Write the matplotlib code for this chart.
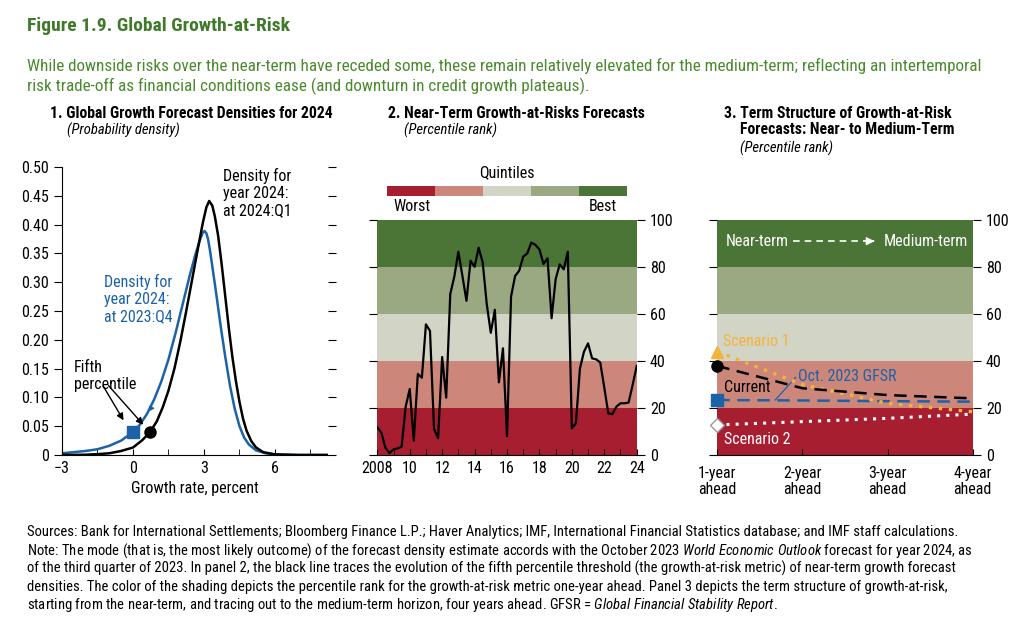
import matplotlib
matplotlib.use('Agg')
import matplotlib.pyplot as plt
from matplotlib import font_manager
import numpy as np


def pick_font():
    for f in ['Liberation Sans Narrow', 'Roboto Condensed', 'Liberation Sans']:
        try:
            font_manager.findfont(f, fallback_to_default=False)
            return f
        except Exception:
            pass
    return 'DejaVu Sans'


FONT = pick_font()
plt.rcParams['font.family'] = [FONT, 'DejaVu Sans']
plt.rcParams['mathtext.fontset'] = 'custom'
plt.rcParams['mathtext.rm'] = FONT
plt.rcParams['mathtext.it'] = FONT + ':italic'

# ---- data ----
# panel 1: forecast densities for 2024 (growth rate, density)
dens_q1_x = [-3.0, -2.0, -1.5, -1.0, -0.5, 0.0, 0.4, 0.72, 1.0, 1.25, 1.5, 1.75, 2.0,
             2.25, 2.5, 2.75, 2.95, 3.1, 3.22, 3.35, 3.46, 3.6, 3.75, 3.9, 4.05, 4.2,
             4.35, 4.5, 4.65, 4.8, 5.0, 5.2, 5.5, 6.0, 7.0, 8.24]
dens_q1_y = [0.0, 0.0005, 0.0015, 0.003, 0.007, 0.013, 0.026, 0.040, 0.058, 0.082, 0.112,
             0.150, 0.197, 0.250, 0.305, 0.360, 0.403, 0.430, 0.441, 0.433, 0.414, 0.380,
             0.330, 0.275, 0.220, 0.170, 0.128, 0.092, 0.063, 0.042, 0.024, 0.013, 0.005,
             0.001, 0.0, 0.0]
dens_q4_x = [-3.0, -2.5, -2.0, -1.5, -1.0, -0.5, 0.0, 0.3, 0.6, 0.9, 1.2, 1.5, 1.8, 2.1,
             2.4, 2.65, 2.85, 2.95, 3.02, 3.1, 3.17, 3.25, 3.35, 3.5, 3.7, 3.9, 4.1, 4.3,
             4.5, 4.7, 4.9, 5.2, 5.6, 6.0, 7.0, 8.24]
dens_q4_y = [0.003, 0.005, 0.007, 0.010, 0.016, 0.025, 0.040, 0.053, 0.072, 0.097, 0.128,
             0.166, 0.212, 0.262, 0.312, 0.350, 0.376, 0.386, 0.389, 0.385, 0.375, 0.356,
             0.328, 0.285, 0.225, 0.170, 0.120, 0.080, 0.050, 0.030, 0.018, 0.008, 0.003,
             0.001, 0.0, 0.0]
fifth_q1 = (0.72, 0.040)
fifth_q4 = (-0.02, 0.040)

# panel 2: near-term growth-at-risk percentile rank, quarterly 2008:Q1-2024:Q1
gar_start = 2008
gar_rank = [11.8, 9.5, 3.1, 0.8, 2.4, 2.8, 3.5, 20.6, 28.1, 6.1, 34.5, 32.9, 55.6, 52.8,
            11.1, 7.1, 41.7, 24.4, 68.5, 75.9, 86.5, 76.2, 65.6, 82.7, 80.1, 88.2, 82.0,
            64.3, 52.0, 61.8, 30.9, 45.4, 8.0, 67.4, 76.2, 78.4, 84.4, 85.8, 90.4, 89.4,
            87.5, 81.3, 83.7, 58.2, 74.8, 81.1, 79.0, 86.5, 11.3, 13.5, 36.9, 44.0, 47.5,
            41.1, 40.7, 39.4, 28.7, 17.7, 17.4, 20.6, 22.0, 22.0, 22.3, 29.8, 37.9]

# panel 3: term structure of growth-at-risk
horizons = ['1-year\nahead', '2-year\nahead', '3-year\nahead', '4-year\nahead']
current = [37.9, 28.4, 25.5, 24.1]
scenario1 = [44.0, 30.0, 22.0, 18.4]
gfsr_oct23 = [23.4, 23.2, 22.9, 22.7]
scenario2 = [12.8, 14.2, 15.6, 17.4]

quintile_edges = [0, 20, 40, 60, 80, 100]
quintile_colors = ['#A71E30', '#CC877A', '#D2D5C5', '#9BA983', '#4A7536']

BLUE = '#1B62A8'
ORANGE = '#F4B43A'
GREEN_T = '#3F7A2A'
W, H = 1020, 629


def fx(px):
    return px / W


def fy(py):
    return 1 - py / H


fig = plt.figure(figsize=(W / 100, H / 100), dpi=100)

# ---- titles ----
fig.text(fx(27), fy(31), 'Figure 1.9. Global Growth-at-Risk', fontsize=14, fontweight='bold',
         color=GREEN_T, va='baseline')
fig.text(fx(27), fy(66), 'While downside risks over the near-term have receded some, these remain '
         'relatively elevated for the medium-term; reflecting an intertemporal',
         fontsize=12.3, color='#4A8A2E', va='center')
fig.text(fx(27), fy(86), 'risk trade-off as financial conditions ease (and downturn in credit growth plateaus).',
         fontsize=12.3, color='#4A8A2E', va='center')

PT = 11.3
fig.text(fx(50), fy(113), '1. Global Growth Forecast Densities for 2024', fontsize=PT,
         fontweight='bold', va='center')
fig.text(fx(67), fy(130), '(Probability density)', fontsize=10.5, style='italic', va='center')
fig.text(fx(388), fy(113), '2. Near-Term Growth-at-Risks Forecasts', fontsize=PT,
         fontweight='bold', va='center')
fig.text(fx(404), fy(130), '(Percentile rank)', fontsize=10.5, style='italic', va='center')
fig.text(fx(724), fy(113), '3. Term Structure of Growth-at-Risk', fontsize=PT,
         fontweight='bold', va='center')
fig.text(fx(740), fy(130), 'Forecasts: Near- to Medium-Term', fontsize=PT,
         fontweight='bold', va='center')
fig.text(fx(740), fy(148), '(Percentile rank)', fontsize=10.5, style='italic', va='center')

TICK_FS = 11.5

# ---- panel 1 ----
ax1 = fig.add_axes([fx(62), fy(455), fx(328 - 62), (455 - 167) / H])
ax1.plot(dens_q4_x, dens_q4_y, color=BLUE, lw=1.8)
ax1.plot(dens_q1_x, dens_q1_y, color='black', lw=1.8)
ax1.plot(*fifth_q4, marker='s', ms=8, color=BLUE, zorder=5)
ax1.plot(*fifth_q1, marker='o', ms=8, color='black', zorder=5)
ax1.set_xlim(-3, 8.24)
ax1.set_ylim(0, 0.5)
ax1.set_xticks([-3, 0, 3, 6])
ax1.set_xticklabels(['\u22123', '0', '3', '6'])
ax1.set_xticks([-1.5, 1.5, 4.5, 7.5], minor=True)
ax1.tick_params(axis='x', which='both', direction='in', length=4, labelsize=TICK_FS, pad=4)
yt = np.arange(0, 0.51, 0.05)
ax1.set_yticks(yt)
ax1.set_yticklabels(['0'] + ['%.2f' % v for v in yt[1:]])
ax1.tick_params(axis='y', which='both', direction='out', length=6, left=True, right=True,
                labelsize=TICK_FS)
for s in ['top', 'right']:
    ax1.spines[s].set_visible(False)
fig.text(fx(195), fy(489), 'Growth rate, percent', fontsize=11.5, ha='center', va='center')

ax1.text(3.8, 0.455, 'Density for\nyear 2024:\nat 2024:Q1', fontsize=11.5, va='center',
         linespacing=1.15)
ax1.text(-1.22, 0.271, 'Density for\nyear 2024:\nat 2023:Q4', fontsize=11.5, va='center',
         color=BLUE, linespacing=1.15)
ax1.text(-2.5, 0.137, 'Fifth\npercentile', fontsize=11.5, va='center', linespacing=1.15)
arr = dict(arrowstyle='-|>', color='black', lw=1.0, mutation_scale=10)
ax1.annotate('', xy=(-0.34, 0.056), xytext=(-1.32, 0.124), arrowprops=arr)
ax1.annotate('', xy=(0.51, 0.049), xytext=(-1.11, 0.124), arrowprops=arr)
ax1.annotate('', xy=(1.05, 0.081), xytext=(0.68, 0.081),
             arrowprops=dict(arrowstyle='-|>', color=BLUE, lw=1.0, mutation_scale=7))


def bands(ax):
    for i, c in enumerate(quintile_colors):
        ax.axhspan(quintile_edges[i], quintile_edges[i + 1], color=c, lw=0, zorder=0)


def quintile_key(x0, x1, worst_x, best_x):
    kax = fig.add_axes([fx(x0), fy(196), fx(x1 - x0), 10 / H])
    for i, c in enumerate(quintile_colors):
        kax.axvspan(i, i + 1, color=c, lw=0)
    kax.set_xlim(0, 5)
    kax.axis('off')
    fig.text(fx((x0 + x1) / 2), fy(173), 'Quintiles', fontsize=11.5, ha='center', va='center')
    fig.text(fx(worst_x), fy(207), 'Worst', fontsize=11.5, ha='center', va='center')
    fig.text(fx(best_x), fy(207), 'Best', fontsize=11.5, ha='center', va='center')


def band_axes(ax):
    ax.set_ylim(0, 100)
    ax.set_yticks(range(0, 101, 20))
    ax.yaxis.tick_right()
    ax.tick_params(axis='y', which='both', direction='out', length=6, left=True, right=True,
                   labelleft=False, labelright=True, labelsize=TICK_FS)
    for s in ['top', 'right', 'left']:
        ax.spines[s].set_visible(False)


# ---- panel 2 ----
ax2 = fig.add_axes([fx(377.3), fy(455), fx(636.7 - 377.3), (455 - 220) / H])
bands(ax2)
quarters = gar_start + np.arange(len(gar_rank)) * 0.25
ax2.plot(quarters, gar_rank, color='black', lw=1.6)
ax2.set_xlim(2008, 2024)
band_axes(ax2)
ax2.set_xticks(range(2008, 2025, 2))
ax2.set_xticklabels(['2008'] + ['%02d' % (y % 100) for y in range(2010, 2025, 2)])
ax2.set_xticks(range(2008, 2025), minor=True)
ax2.tick_params(axis='x', which='both', direction='in', length=4, labelsize=TICK_FS, pad=4)
quintile_key(386.7, 626.7, 411.7, 603.3)

# ---- panel 3 ----
ax3 = fig.add_axes([fx(717.3), fy(455), fx(972.7 - 717.3), (455 - 220) / H])
bands(ax3)
hx = np.arange(1, len(horizons) + 1)
ax3.plot(hx, scenario2, color='white', lw=2.2, ls=(0, (1, 2)), marker='D', ms=7,
         mfc='white', mec='#999999', markevery=[0], clip_on=False, zorder=3)
ax3.plot(hx, gfsr_oct23, color=BLUE, lw=1.8, ls=(0, (5, 3)), marker='s', ms=8,
         markevery=[0], clip_on=False, zorder=3)
ax3.plot(hx, scenario1, color=ORANGE, lw=2.4, ls=(0, (1, 2)), marker='^', ms=9,
         markevery=[0], clip_on=False, zorder=3)
ax3.plot(hx, current, color='black', lw=1.8, ls=(0, (5, 3)), marker='o', ms=8,
         markevery=[0], clip_on=False, zorder=4)
ax3.set_xlim(1, 4)
band_axes(ax3)
ax3.set_xticks(hx)
ax3.set_xticklabels(horizons, linespacing=1.05)
ax3.tick_params(axis='x', which='both', direction='in', length=4, labelsize=TICK_FS, pad=8)

ax3.text(1.10, 91, 'Near-term', color='white', fontsize=11.5, va='center')
ax3.plot([1.89, 2.82], [91, 91], color='white', lw=1.2, ls=(0, (4, 3)))
ax3.annotate('', xy=(2.88, 91), xytext=(2.80, 91),
             arrowprops=dict(arrowstyle='-|>', color='white', lw=1.0, mutation_scale=12))
ax3.text(2.95, 91, 'Medium-term', color='white', fontsize=11.5, va='center')
ax3.text(1.07, 48.5, 'Scenario 1', color=ORANGE, fontsize=11.5, va='center')
ax3.text(1.08, 28.7, 'Current', color='black', fontsize=11.5, va='center')
ax3.text(1.95, 33.6, 'Oct. 2023 GFSR', color=BLUE, fontsize=11.5, va='center')
ax3.plot([1.68, 1.92], [23.4, 33.0], color=BLUE, lw=0.9)
ax3.text(1.08, 6.7, 'Scenario 2', color='white', fontsize=11.5, va='center')

# ---- notes ----
notes = [
    'Sources: Bank for International Settlements; Bloomberg Finance L.P.; Haver Analytics; IMF, '
    'International Financial Statistics database; and IMF staff calculations.',
    'Note: The mode (that is, the most likely outcome) of the forecast density estimate accords with '
    'the October 2023 $\\mathit{World\\ Economic\\ Outlook}$ forecast for year 2024, as',
    'of the third quarter of 2023. In panel 2, the black line traces the evolution of the fifth '
    'percentile threshold (the growth-at-risk metric) of near-term growth forecast',
    'densities. The color of the shading depicts the percentile rank for the growth-at-risk metric '
    'one-year ahead. Panel 3 depicts the term structure of growth-at-risk,',
    'starting from the near-term, and tracing out to the medium-term horizon, four years ahead. '
    'GFSR = $\\mathit{Global\\ Financial\\ Stability\\ Report}$.',
]
for i, line in enumerate(notes):
    fig.text(fx(27), fy(532 + i * 18.3), line, fontsize=10.5, va='center')

fig.savefig('out.png', dpi=100)
